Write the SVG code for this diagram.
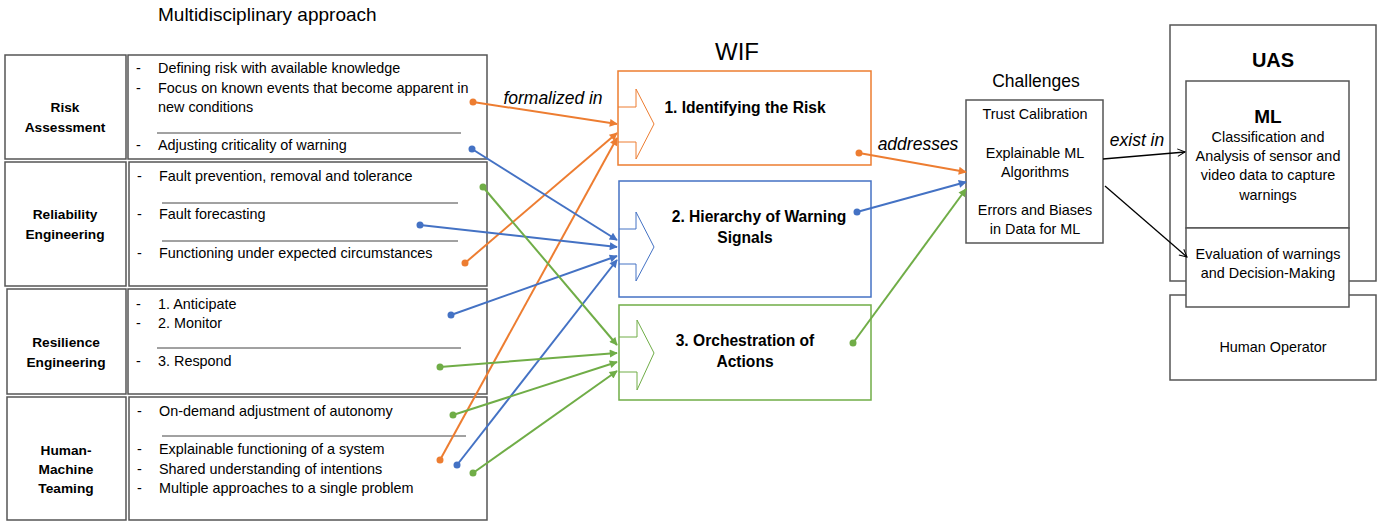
<svg xmlns="http://www.w3.org/2000/svg" width="1383" height="521" viewBox="0 0 1383 521">
<style>
text{font-family:"Liberation Sans",Arial,sans-serif;fill:#000}
.t{font-size:14.4px}
.b{font-size:13.7px;font-weight:bold}
.w{font-size:15.6px;font-weight:bold}
.c{text-anchor:middle}
.box{fill:#fff;stroke:#555;stroke-width:1.5}
.ul{stroke:#444;stroke-width:1}
.lbl{font-size:17.5px;font-style:italic}
.o{stroke:#ED7D31;fill:none;stroke-width:2}
.bl{stroke:#4472C4;fill:none;stroke-width:2}
.g{stroke:#70AD47;fill:none;stroke-width:2}
.k{stroke:#000;fill:none;stroke-width:1.3}
</style>
<defs>
<marker id="mo" viewBox="0 0 10 10" refX="9" refY="5" markerWidth="5" markerHeight="4" orient="auto" markerUnits="strokeWidth"><path d="M0,0 L10,5 L0,10 z" fill="#ED7D31"/></marker>
<marker id="mb" viewBox="0 0 10 10" refX="9" refY="5" markerWidth="5" markerHeight="4" orient="auto" markerUnits="strokeWidth"><path d="M0,0 L10,5 L0,10 z" fill="#4472C4"/></marker>
<marker id="mg" viewBox="0 0 10 10" refX="9" refY="5" markerWidth="5" markerHeight="4" orient="auto" markerUnits="strokeWidth"><path d="M0,0 L10,5 L0,10 z" fill="#70AD47"/></marker>
<marker id="mk" viewBox="0 0 12 12" refX="11" refY="6" markerWidth="9" markerHeight="9" orient="auto" markerUnits="userSpaceOnUse"><path d="M1,1 L11,6 L1,11" fill="none" stroke="#000" stroke-width="1.3"/></marker>
</defs>
<rect width="1383" height="521" fill="#fff"/>

<text x="158" y="21" style="font-size:19px">Multidisciplinary approach</text>

<g id="risk-assessment">
<rect class="box" x="5" y="55" width="121" height="104"/>
<text class="b c" x="65" y="112">Risk</text>
<text class="b c" x="65" y="132">Assessment</text>
<rect class="box" x="128" y="55" width="359" height="104"/>
<text class="t" x="136" y="73">-</text><text class="t" x="158" y="73">Defining risk with available knowledge</text>
<text class="t" x="136" y="93">-</text><text class="t" x="158" y="93">Focus on known events that become apparent in</text>
<text class="t" x="158" y="112">new conditions</text>
<line class="ul" x1="157" y1="133" x2="461" y2="133"/>
<text class="t" x="136" y="150">-</text><text class="t" x="158" y="150">Adjusting criticality of warning</text>
</g>

<g id="reliability-engineering">
<rect class="box" x="5" y="162" width="121" height="124"/>
<text class="b c" x="65" y="219">Reliability</text>
<text class="b c" x="65" y="239">Engineering</text>
<rect class="box" x="129" y="162" width="358" height="124"/>
<text class="t" x="137" y="181">-</text><text class="t" x="159" y="181">Fault prevention, removal and tolerance</text>
<line class="ul" x1="162" y1="203" x2="458" y2="203"/>
<text class="t" x="137" y="219">-</text><text class="t" x="159" y="219">Fault forecasting</text>
<line class="ul" x1="162" y1="241" x2="458" y2="241"/>
<text class="t" x="137" y="258">-</text><text class="t" x="159" y="258">Functioning under expected circumstances</text>
</g>

<g id="resilience-engineering">
<rect class="box" x="7" y="289" width="119" height="105"/>
<text class="b c" x="66" y="347">Resilience</text>
<text class="b c" x="66" y="367">Engineering</text>
<rect class="box" x="128" y="289" width="359" height="105"/>
<text class="t" x="136" y="309">-</text><text class="t" x="158" y="309">1. Anticipate</text>
<text class="t" x="136" y="328">-</text><text class="t" x="158" y="328">2. Monitor</text>
<line class="ul" x1="157" y1="348" x2="461" y2="348"/>
<text class="t" x="136" y="366">-</text><text class="t" x="158" y="366">3. Respond</text>
</g>

<g id="human-machine-teaming">
<rect class="box" x="7" y="397" width="119" height="123"/>
<text class="b c" x="66" y="455">Human-</text>
<text class="b c" x="66" y="474">Machine</text>
<text class="b c" x="66" y="493">Teaming</text>
<rect class="box" x="129" y="397" width="358" height="123"/>
<text class="t" x="137" y="416">-</text><text class="t" x="159" y="416">On-demand adjustment of autonomy</text>
<line class="ul" x1="162" y1="436" x2="466" y2="436"/>
<text class="t" x="137" y="454">-</text><text class="t" x="159" y="454">Explainable functioning of a system</text>
<text class="t" x="137" y="474">-</text><text class="t" x="159" y="474">Shared understanding of intentions</text>
<text class="t" x="137" y="493">-</text><text class="t" x="159" y="493">Multiple approaches to a single problem</text>
</g>

<text class="c" x="737" y="60" style="font-size:24px">WIF</text>

<g id="wif-1">
<rect x="618" y="71" width="253" height="94" fill="#fff" stroke="#ED7D31" stroke-width="1.5"/>
<path d="M618,107 L636,107 L636,89 L654,124 L636,159 L636,142 L618,142" fill="none" stroke="#ED7D31" stroke-width="1"/>
<text class="w c" x="745" y="113">1. Identifying the Risk</text>
</g>

<g id="wif-2">
<rect x="619" y="181" width="252" height="116" fill="#fff" stroke="#4472C4" stroke-width="1.5"/>
<path d="M619,229 L636,229 L636,212 L654,247 L636,281 L636,264 L619,264" fill="none" stroke="#4472C4" stroke-width="1"/>
<text class="w c" x="759" y="222">2. Hierarchy of Warning</text>
<text class="w c" x="745" y="243">Signals</text>
</g>

<g id="wif-3">
<rect x="619" y="305" width="252" height="95" fill="#fff" stroke="#70AD47" stroke-width="1.5"/>
<path d="M619,337 L637,337 L637,320 L654,353 L637,390 L637,372 L619,372" fill="none" stroke="#70AD47" stroke-width="1"/>
<text class="w c" x="745" y="346">3. Orchestration of</text>
<text class="w c" x="745" y="367">Actions</text>
</g>

<text class="c" x="1036" y="87" style="font-size:17.5px">Challenges</text>
<g id="challenges">
<rect class="box" x="966" y="100" width="137" height="143"/>
<text class="t c" x="1035" y="119">Trust Calibration</text>
<text class="t c" x="1035" y="158">Explainable ML</text>
<text class="t c" x="1035" y="177">Algorithms</text>
<text class="t c" x="1035" y="215">Errors and Biases</text>
<text class="t c" x="1035" y="234">in Data for ML</text>
</g>

<g id="uas">
<rect class="box" x="1170" y="25" width="206" height="256"/>
<text class="c" x="1273" y="67" style="font-size:20px;font-weight:bold">UAS</text>
</g>
<g id="human-operator">
<rect class="box" x="1170" y="295" width="206" height="85"/>
<text class="t c" x="1273" y="352">Human Operator</text>
</g>
<g id="ml">
<rect class="box" x="1186" y="81" width="163" height="147"/>
<text class="c" x="1268" y="123" style="font-size:19px;font-weight:bold">ML</text>
<text class="t c" x="1268" y="142">Classification and</text>
<text class="t c" x="1268" y="161">Analysis  of sensor and</text>
<text class="t c" x="1268" y="180">video data to capture</text>
<text class="t c" x="1268" y="200">warnings</text>
</g>
<g id="evaluation">
<rect class="box" x="1186" y="228" width="163" height="79"/>
<text class="t c" x="1268" y="259">Evaluation of warnings</text>
<text class="t c" x="1268" y="278">and Decision-Making</text>
</g>

<g id="connectors">
<g fill="#ED7D31">
<circle cx="473" cy="102" r="3.5"/><circle cx="465" cy="263" r="3.5"/><circle cx="440" cy="460" r="3.5"/><circle cx="859" cy="153" r="3.5"/>
</g>
<line class="o" x1="473" y1="102" x2="617" y2="124" marker-end="url(#mo)"/>
<line class="o" x1="465" y1="263" x2="617" y2="133" marker-end="url(#mo)"/>
<line class="o" x1="440" y1="460" x2="617" y2="138" marker-end="url(#mo)"/>
<line class="o" x1="859" y1="153" x2="966" y2="172" marker-end="url(#mo)"/>

<g fill="#4472C4">
<circle cx="472" cy="149" r="3.5"/><circle cx="420" cy="225" r="3.5"/><circle cx="451" cy="315" r="3.5"/><circle cx="457" cy="465" r="3.5"/><circle cx="857" cy="212" r="3.5"/>
</g>
<line class="bl" x1="472" y1="149" x2="617" y2="240" marker-end="url(#mb)"/>
<line class="bl" x1="420" y1="225" x2="617" y2="247" marker-end="url(#mb)"/>
<line class="bl" x1="451" y1="315" x2="617" y2="256" marker-end="url(#mb)"/>
<line class="bl" x1="457" y1="465" x2="617" y2="260" marker-end="url(#mb)"/>
<line class="bl" x1="857" y1="212" x2="966" y2="182" marker-end="url(#mb)"/>

<g fill="#70AD47">
<circle cx="483" cy="187" r="3.5"/><circle cx="440" cy="367" r="3.5"/><circle cx="453" cy="415" r="3.5"/><circle cx="473" cy="473" r="3.5"/><circle cx="853" cy="343" r="3.5"/>
</g>
<line class="g" x1="483" y1="187" x2="617" y2="345" marker-end="url(#mg)"/>
<line class="g" x1="440" y1="367" x2="617" y2="353" marker-end="url(#mg)"/>
<line class="g" x1="453" y1="415" x2="617" y2="362" marker-end="url(#mg)"/>
<line class="g" x1="473" y1="473" x2="617" y2="371" marker-end="url(#mg)"/>
<line class="g" x1="853" y1="343" x2="966" y2="189" marker-end="url(#mg)"/>

<line class="k" x1="1103" y1="159" x2="1185" y2="152" marker-end="url(#mk)"/>
<line class="k" x1="1105" y1="186" x2="1187" y2="257" marker-end="url(#mk)"/>

<text class="lbl c" x="553" y="104">formalized in</text>
<text class="lbl c" x="918" y="150">addresses</text>
<text class="lbl c" x="1137" y="146">exist in</text>
</g>
</svg>
